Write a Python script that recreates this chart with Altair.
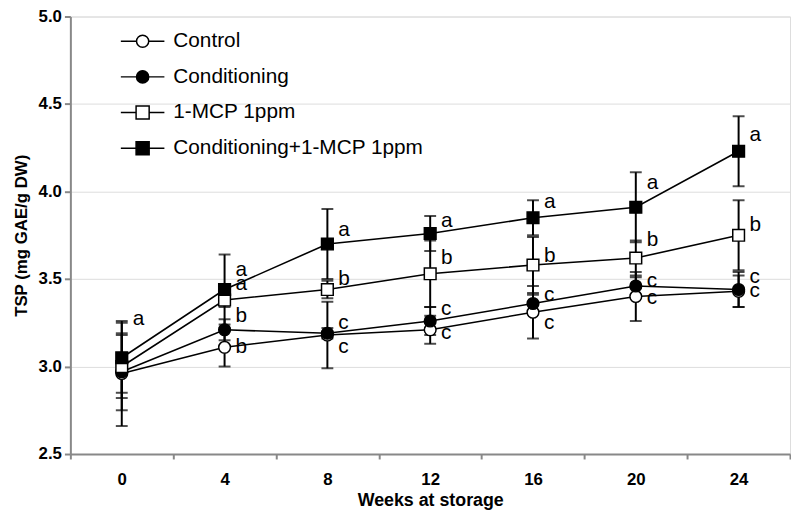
import altair as alt
import pandas as pd

series = ["Control", "Conditioning", "1-MCP 1ppm", "Conditioning+1-MCP 1ppm"]
weeks = [0, 4, 8, 12, 16, 20, 24]

control_mean = [2.96, 3.11, 3.18, 3.21, 3.31, 3.40, 3.43]
control_sd = [0.30, 0.11, 0.19, 0.08, 0.15, 0.14, 0.09]
control_letters = ["", "b", "c", "c", "c", "c", "c"]
control_letter_y = [None, 3.11, 3.11, 3.19, 3.25, 3.39, 3.43]

cond_mean = [2.97, 3.21, 3.19, 3.26, 3.36, 3.46, 3.44]
cond_sd = [0.22, 0.06, 0.03, 0.08, 0.05, 0.05, 0.10]
cond_letters = ["", "b", "c", "c", "c", "c", "c"]
cond_letter_y = [None, 3.29, 3.25, 3.33, 3.41, 3.49, 3.51]

mcp_mean = [3.00, 3.38, 3.44, 3.53, 3.58, 3.62, 3.75]
mcp_sd = [0.18, 0.04, 0.05, 0.19, 0.16, 0.10, 0.20]
mcp_letters = ["", "a", "b", "b", "b", "b", "b"]
mcp_letter_y = [None, 3.47, 3.50, 3.62, 3.63, 3.72, 3.81]

combo_mean = [3.05, 3.44, 3.70, 3.76, 3.85, 3.91, 4.23]
combo_sd = [0.20, 0.20, 0.20, 0.10, 0.10, 0.20, 0.20]
combo_letters = ["a", "a", "a", "a", "a", "a", "a"]
combo_letter_y = [3.27, 3.55, 3.78, 3.83, 3.94, 4.05, 4.32]

y_ticks = [2.5, 3.0, 3.5, 4.0, 4.5, 5.0]

groups = [
    (series[0], control_mean, control_sd, control_letters, control_letter_y),
    (series[1], cond_mean, cond_sd, cond_letters, cond_letter_y),
    (series[2], mcp_mean, mcp_sd, mcp_letters, mcp_letter_y),
    (series[3], combo_mean, combo_sd, combo_letters, combo_letter_y),
]
rows = []
for name, means, sds, letters, ly in groups:
    for w, m, s, l, y in zip(weeks, means, sds, letters, ly):
        rows.append({"series": name, "week": w, "mean": m, "sd": s,
                     "letter": l, "letter_y": y})
df = pd.DataFrame(rows)

FONT = "Liberation Sans"

base = alt.Chart(df).transform_calculate(
    lo="datum.mean - datum.sd", hi="datum.mean + datum.sd"
)

x_enc = alt.X(
    "week:O",
    scale=alt.Scale(type="band", paddingInner=0, paddingOuter=0),
    axis=alt.Axis(
        labelAngle=0, tickBand="extent", tickSize=5, tickWidth=2,
        labelPadding=13, labelFontSize=17, labelFontWeight="bold",
        title="Weeks at storage", titleFontSize=18, titleFontWeight="bold",
        titlePadding=4, domainWidth=2,
    ),
)
y_scale = alt.Scale(domain=[2.5, 5.0], nice=False, zero=False)
y_axis = alt.Axis(
    values=y_ticks, format=".1f", tickSize=6, tickWidth=2, domainWidth=2,
    labelPadding=3, labelFontSize=17, labelFontWeight="bold",
    title="TSP (mg GAE/g DW)", titleFontSize=17, titleFontWeight="bold",
    titleX=-49, titleY=221, titleBaseline="middle", titleAngle=-90,
)

lines = base.mark_line(color="black", strokeWidth=1.6).encode(
    x=x_enc,
    y=alt.Y("mean:Q", scale=y_scale, axis=y_axis),
    detail="series:N",
)
bars = base.mark_rule(color="black", strokeWidth=2).encode(
    x="week:O", y="lo:Q", y2="hi:Q"
)
cap_lo = base.mark_tick(color="black", size=12, thickness=2).encode(
    x="week:O", y="lo:Q"
)
cap_hi = base.mark_tick(color="black", size=12, thickness=2).encode(
    x="week:O", y="hi:Q"
)
points = base.mark_point(filled=True, stroke="black", strokeWidth=1.5, opacity=1).encode(
    x="week:O",
    y="mean:Q",
    shape=alt.Shape("series:N", scale=alt.Scale(domain=series, range=["circle", "circle", "square", "square"]), legend=None),
    fill=alt.Fill("series:N", scale=alt.Scale(domain=series, range=["white", "black", "white", "black"]), legend=None),
    size=alt.Size("series:N", scale=alt.Scale(domain=series, range=[140, 140, 120, 175]), legend=None),
)
letters = base.transform_filter("datum.letter != ''").mark_text(
    align="left", baseline="middle", dx=11, font=FONT, fontSize=21, color="black"
).encode(x="week:O", y="letter_y:Q", text="letter:N")

circle_leg = "M-1,0H-0.28M0.28,0H1M-0.28,0A0.28,0.28 0 1,0 0.28,0A0.28,0.28 0 1,0 -0.28,0Z"
square_leg = "M-1,0H-0.3M0.3,0H1M-0.3,-0.3H0.3V0.3H-0.3Z"
leg = alt.Legend(
    orient="none", legendX=50, legendY=7, title=None, padding=0,
    labelFont=FONT, labelFontSize=21, labelColor="black", labelOffset=8,
    labelLimit=400,
    symbolSize=1936, symbolStrokeColor="black", symbolStrokeWidth=1.5,
    symbolOpacity=1, rowPadding=0, clipHeight=36,
)
legend_layer = base.transform_filter("false").mark_point(
    filled=True, strokeWidth=1.5, size=1936
).encode(
    x="week:O",
    y="mean:Q",
    shape=alt.Shape("series:N", scale=alt.Scale(domain=series, range=[circle_leg, circle_leg, square_leg, square_leg]), legend=leg),
    fill=alt.Fill("series:N", scale=alt.Scale(domain=series, range=["white", "black", "white", "black"]), legend=leg),
    stroke=alt.Stroke("series:N", scale=alt.Scale(domain=series, range=["black", "black", "black", "black"]), legend=leg),
)

chart = alt.layer(lines, bars, cap_lo, cap_hi, points, letters, legend_layer).resolve_scale(
    shape="independent", fill="independent", size="independent", stroke="independent"
).properties(
    width=727, height=442,
    autosize=alt.AutoSizeParams(type="none"),
    padding={"left": 63, "top": 6, "right": 1, "bottom": 58},
).configure_view(stroke="black", strokeWidth=1.5).configure_axis(
    grid=False, domainColor="black", tickColor="black", labelColor="black",
    titleColor="black", labelFont=FONT, titleFont=FONT,
).configure(background="white")

chart.save("out.html", embed_options={"renderer": "svg", "actions": False})
